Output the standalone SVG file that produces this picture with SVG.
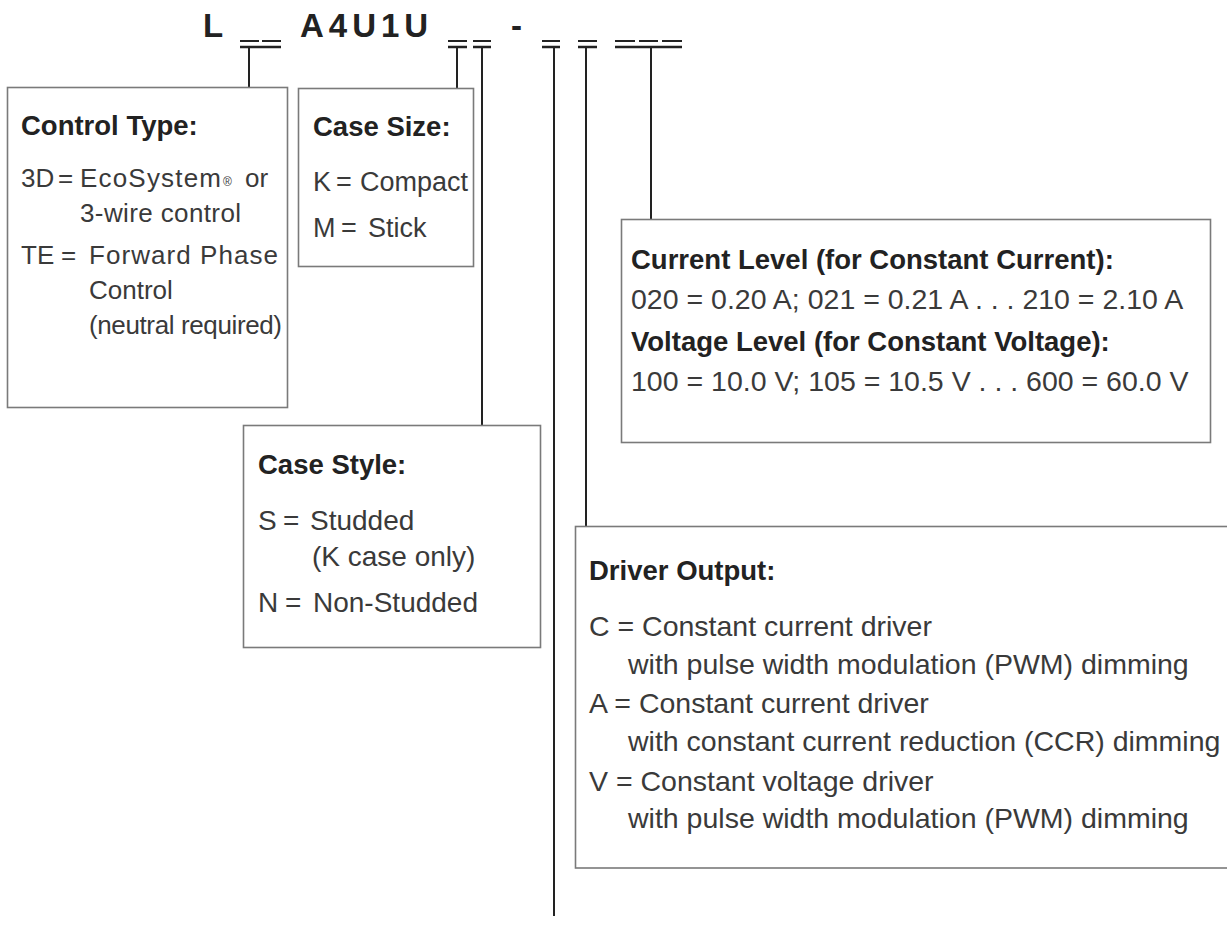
<svg xmlns="http://www.w3.org/2000/svg" width="1227" height="936" viewBox="0 0 1227 936">
<style>
.box{fill:#fff;stroke:#7a7a7a;stroke-width:1.6}
.ln{stroke:#222;stroke-width:2;fill:none}
.bar{stroke:#222;stroke-width:2.6;fill:none}
.dash{stroke:#222;stroke-width:2;fill:none}
.hd{font-family:"Liberation Sans",Arial,sans-serif;font-size:27.5px;font-weight:bold;fill:#222}
.tx{font-family:"Liberation Sans",Arial,sans-serif;font-size:28.5px;fill:#3a3a3a}
.ts{font-family:"Liberation Sans",Arial,sans-serif;font-size:26px;fill:#3a3a3a}
.cs{font-family:"Liberation Sans",Arial,sans-serif;font-size:27px;fill:#3a3a3a}
.st{font-family:"Liberation Sans",Arial,sans-serif;font-size:28px;fill:#3a3a3a}
.reg{font-family:"Liberation Sans",Arial,sans-serif;font-size:12px;fill:#3a3a3a}
.code{font-family:"Liberation Sans",Arial,sans-serif;font-size:33px;font-weight:bold;fill:#222}
</style>
<g id="header">
<text class="code" x="203" y="37">L</text>
<text class="code" x="300" y="37" letter-spacing="5">A4U1U</text>
<text class="code" x="511" y="37">-</text>
</g>
<g id="connectors">
<path class="dash" d="M240,41H259M262,41H281M448,41H467M473,41H491M542,41H560M578,41H597M615,41H635M639,41H658M662,41H682"/>
<path class="bar" d="M240,47H281M448,47H467M473,47H491M542,47H560M578,47H597M615,47H682"/>
<path class="ln" d="M249,47V87.5M457,47V88.5M482,47V425.5M554,47V916M586,47V526.5M651,47V219.5"/>
</g>
<g id="control-type">
<rect class="box" x="7.5" y="87.5" width="280" height="320"/>
<text class="hd" x="21" y="135">Control Type:</text>
<text class="ts" x="21" y="187">3D<tspan x="58">=</tspan></text>
<text class="ts" x="80" y="187" textLength="141" lengthAdjust="spacing">EcoSystem</text>
<text class="reg" x="223" y="186">®</text>
<text class="ts" x="245" y="187">or</text>
<text class="ts" x="80" y="222" textLength="161" lengthAdjust="spacing">3-wire control</text>
<text class="ts" x="21" y="264">TE<tspan x="61">=</tspan></text>
<text class="ts" x="89" y="264" textLength="189" lengthAdjust="spacing">Forward Phase</text>
<text class="ts" x="89" y="299">Control</text>
<text class="ts" x="89" y="334" textLength="193" lengthAdjust="spacing">(neutral required)</text>
</g>
<g id="case-size">
<rect class="box" x="298.5" y="88.5" width="175" height="178"/>
<text class="hd" x="313" y="136">Case Size:</text>
<text class="cs" x="313" y="191">K<tspan x="336">=</tspan><tspan x="360">Compact</tspan></text>
<text class="cs" x="313" y="237">M<tspan x="341">=</tspan><tspan x="368">Stick</tspan></text>
</g>
<g id="case-style">
<rect class="box" x="243.5" y="425.5" width="297" height="222"/>
<text class="hd" x="258" y="474">Case Style:</text>
<text class="st" x="258" y="530">S<tspan x="283">=</tspan><tspan x="310">Studded</tspan></text>
<text class="st" x="312" y="566">(K case only)</text>
<text class="st" x="258" y="612">N<tspan x="285">=</tspan><tspan x="313">Non-Studded</tspan></text>
</g>
<g id="level">
<rect class="box" x="621.5" y="219.5" width="589" height="223"/>
<text class="hd" x="631" y="269">Current Level (for Constant Current):</text>
<text class="tx" x="631" y="309">020 = 0.20 A; 021 = 0.21 A . . . 210 = 2.10 A</text>
<text class="hd" x="631" y="351">Voltage Level (for Constant Voltage):</text>
<text class="tx" x="631" y="391">100 = 10.0 V; 105 = 10.5 V . . . 600 = 60.0 V</text>
</g>
<g id="driver-output">
<rect class="box" x="575.5" y="526.5" width="670" height="341.5"/>
<text class="hd" x="589" y="580">Driver Output:</text>
<text class="tx" x="589" y="636">C = Constant current driver</text>
<text class="tx" x="628" y="674">with pulse width modulation (PWM) dimming</text>
<text class="tx" x="589" y="713">A = Constant current driver</text>
<text class="tx" x="628" y="751">with constant current reduction (CCR) dimming</text>
<text class="tx" x="589" y="791">V = Constant voltage driver</text>
<text class="tx" x="628" y="828">with pulse width modulation (PWM) dimming</text>
</g>
</svg>
